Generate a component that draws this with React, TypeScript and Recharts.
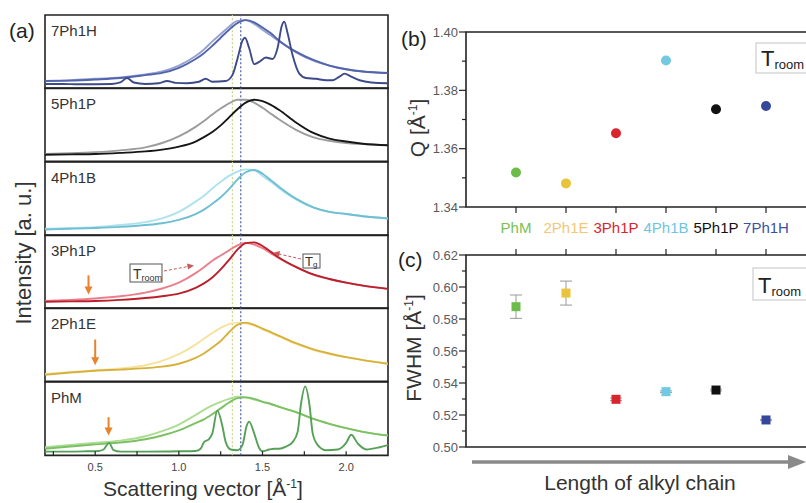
import React from "react";
import {
  LineChart,
  Line,
  XAxis,
  YAxis,
  ReferenceArea,
  ReferenceLine,
  ScatterChart,
  Scatter,
  ErrorBar,
} from "recharts";

const FONT = "'Liberation Sans', Arial, sans-serif";

// ---- panel (a): intensity scaled to each strip (0 = strip bottom, 1 = strip top)
const qGrid = [0.2, 0.35, 0.5, 0.65, 0.8, 0.9, 1.0, 1.1, 1.15, 1.2, 1.25, 1.3, 1.35, 1.4, 1.45, 1.5, 1.55, 1.6, 1.7, 1.8, 1.9, 2.0, 2.1, 2.25];

const h7Room = [0.1, 0.11, 0.13, 0.15, 0.19, 0.23, 0.31, 0.44, 0.53, 0.64, 0.74, 0.84, 0.92, 0.93, 0.88, 0.8, 0.72, 0.64, 0.49, 0.38, 0.31, 0.26, 0.23, 0.21];
const h7Tg = [0.1, 0.105, 0.12, 0.14, 0.18, 0.21, 0.28, 0.4, 0.48, 0.58, 0.69, 0.8, 0.89, 0.93, 0.9, 0.83, 0.75, 0.65, 0.5, 0.39, 0.31, 0.26, 0.23, 0.21];
const q7Cryst = [0.2, 0.3, 0.4, 0.6, 0.65, 0.69, 0.73, 0.8, 0.88, 0.93, 0.98, 1.05, 1.12, 1.16, 1.2, 1.28, 1.32, 1.35, 1.38, 1.395, 1.42, 1.45, 1.48, 1.52, 1.56, 1.59, 1.615, 1.63, 1.65, 1.68, 1.72, 1.76, 1.82, 1.88, 1.92, 1.96, 1.99, 2.03, 2.08, 2.15, 2.25];
const h7Cryst = [0.06, 0.06, 0.055, 0.06, 0.08, 0.14, 0.08, 0.06, 0.07, 0.1, 0.075, 0.07, 0.09, 0.13, 0.09, 0.1, 0.18, 0.4, 0.65, 0.69, 0.55, 0.33, 0.36, 0.42, 0.4, 0.55, 0.85, 0.91, 0.75, 0.45, 0.2, 0.14, 0.13, 0.11, 0.11, 0.16, 0.2, 0.16, 0.11, 0.08, 0.07];

const h5Room = [0.1, 0.11, 0.125, 0.15, 0.19, 0.25, 0.34, 0.47, 0.55, 0.64, 0.72, 0.79, 0.84, 0.84, 0.8, 0.73, 0.65, 0.57, 0.43, 0.33, 0.28, 0.25, 0.235, 0.22];
const h5Tg = [0.09, 0.095, 0.1, 0.115, 0.135, 0.16, 0.2, 0.27, 0.33, 0.4, 0.49, 0.6, 0.71, 0.8, 0.84, 0.82, 0.77, 0.7, 0.53, 0.39, 0.31, 0.27, 0.24, 0.22];

const h4Room = [0.09, 0.1, 0.11, 0.14, 0.18, 0.23, 0.32, 0.46, 0.54, 0.64, 0.73, 0.81, 0.87, 0.9, 0.89, 0.81, 0.73, 0.64, 0.49, 0.38, 0.32, 0.29, 0.26, 0.23];
const h4Tg = [0.08, 0.09, 0.1, 0.115, 0.14, 0.165, 0.21, 0.29, 0.35, 0.43, 0.52, 0.63, 0.76, 0.86, 0.89, 0.84, 0.75, 0.66, 0.5, 0.385, 0.32, 0.29, 0.26, 0.23];

const h3Room = [0.1, 0.115, 0.135, 0.165, 0.215, 0.27, 0.35, 0.48, 0.56, 0.65, 0.72, 0.79, 0.86, 0.89, 0.87, 0.82, 0.75, 0.68, 0.56, 0.46, 0.4, 0.35, 0.31, 0.265];
const h3Tg = [0.09, 0.095, 0.1, 0.115, 0.14, 0.165, 0.2, 0.28, 0.34, 0.42, 0.53, 0.66, 0.8, 0.89, 0.9, 0.85, 0.77, 0.69, 0.565, 0.465, 0.4, 0.35, 0.31, 0.265];

const h2Room = [0.1, 0.125, 0.15, 0.175, 0.22, 0.28, 0.37, 0.5, 0.58, 0.66, 0.73, 0.78, 0.8, 0.79, 0.76, 0.71, 0.66, 0.61, 0.51, 0.43, 0.37, 0.33, 0.29, 0.24];
const h2Tg = [0.09, 0.12, 0.145, 0.16, 0.18, 0.2, 0.24, 0.32, 0.38, 0.46, 0.55, 0.67, 0.77, 0.8, 0.77, 0.72, 0.67, 0.62, 0.52, 0.44, 0.38, 0.33, 0.29, 0.24];

const hMRoom = [0.11, 0.14, 0.17, 0.2, 0.26, 0.33, 0.42, 0.55, 0.62, 0.68, 0.73, 0.77, 0.8, 0.79, 0.76, 0.73, 0.7, 0.66, 0.59, 0.5, 0.43, 0.37, 0.32, 0.27];
const hMTg = [0.09, 0.12, 0.15, 0.175, 0.22, 0.27, 0.34, 0.44, 0.49, 0.56, 0.64, 0.72, 0.78, 0.79, 0.77, 0.73, 0.7, 0.66, 0.59, 0.5, 0.43, 0.37, 0.32, 0.27];
const qMCryst = [0.2, 0.35, 0.45, 0.52, 0.55, 0.583, 0.61, 0.65, 0.8, 1.0, 1.1, 1.13, 1.15, 1.18, 1.2, 1.23, 1.26, 1.28, 1.31, 1.35, 1.38, 1.405, 1.42, 1.45, 1.48, 1.5, 1.54, 1.57, 1.6, 1.64, 1.68, 1.71, 1.73, 1.755, 1.78, 1.8, 1.83, 1.88, 1.95, 2.0, 2.03, 2.07, 2.12, 2.2, 2.25];
const hMCryst = [0.05, 0.05, 0.055, 0.06, 0.08, 0.17, 0.07, 0.05, 0.05, 0.055, 0.06, 0.09, 0.18, 0.22, 0.3, 0.61, 0.4, 0.18, 0.08, 0.07, 0.14, 0.4, 0.46, 0.3, 0.1, 0.055, 0.08, 0.09, 0.09, 0.12, 0.18, 0.32, 0.7, 0.94, 0.7, 0.3, 0.14, 0.07, 0.08, 0.17, 0.28, 0.16, 0.08, 0.11, 0.14];

const qTicks = [0.25, 0.5, 0.75, 1.0, 1.25, 1.5, 1.75, 2.0];

// ---- panels (b) and (c)
const compounds = ["PhM", "2Ph1E", "3Ph1P", "4Ph1B", "5Ph1P", "7Ph1H"];
const labelColors = ["#78c155", "#f2c878", "#d9262e", "#6cc6df", "#111111", "#3e51a0"];
const markerColors = ["#6cbc4a", "#e9c43a", "#d9262e", "#72c9e2", "#111111", "#34479b"];
const peakQ = [1.3518, 1.3481, 1.3653, 1.3902, 1.3735, 1.3746];
const fwhm = [0.5877, 0.5962, 0.5298, 0.5346, 0.5356, 0.5169];
const fwhmErr = [0.0073, 0.0075, 0.0008, 0.0005, 0.0006, 0.0004];
const qTicksB = [1.34, 1.35, 1.36, 1.37, 1.38, 1.39, 1.4];
const fwhmTicks = [0.5, 0.51, 0.52, 0.53, 0.54, 0.55, 0.56, 0.57, 0.58, 0.59, 0.6, 0.61, 0.62];

const STRIP_TOP = 15;
const STRIP_H = 73.33;

const panels = [
  { name: "7Ph1H", room: h7Room, tg: h7Tg, roomColor: "#97a2cf", tgColor: "#5164ad", crystQ: q7Cryst, cryst: h7Cryst, crystColor: "#3d4a8a" },
  { name: "5Ph1P", room: h5Room, tg: h5Tg, roomColor: "#9c9c9c", tgColor: "#161616" },
  { name: "4Ph1B", room: h4Room, tg: h4Tg, roomColor: "#aee2ee", tgColor: "#6dbfd3" },
  { name: "3Ph1P", room: h3Room, tg: h3Tg, roomColor: "#ea7f8c", tgColor: "#bb1f2c", arrow: { q: 0.46, from: 0.45, to: 0.19 } },
  { name: "2Ph1E", room: h2Room, tg: h2Tg, roomColor: "#f7e29c", tgColor: "#d6b23c", arrow: { q: 0.5, from: 0.57, to: 0.22 } },
  { name: "PhM", room: hMRoom, tg: hMTg, roomColor: "#acdd92", tgColor: "#7cc064", crystQ: qMCryst, cryst: hMCryst, crystColor: "#56a058", arrow: { q: 0.58, from: 0.52, to: 0.27 } },
];

function buildRows(p) {
  const rows = qGrid.map((q, i) => ({ q, room: p.room[i], tg: p.tg[i] }));
  if (p.crystQ) p.crystQ.forEach((q, i) => rows.push({ q, cryst: p.cryst[i] }));
  return rows.sort((a, b) => a.q - b.q);
}

const OrangeArrow = (props) => {
  const { x1, y1, x2, y2 } = props;
  const x = (x1 + x2) / 2;
  const top = Math.min(y1, y2);
  const bot = Math.max(y1, y2);
  return (
    <g>
      <line x1={x} x2={x} y1={top} y2={bot - 6} stroke="#e8822c" strokeWidth={2} />
      <polygon points={`${x - 4},${bot - 8} ${x + 4},${bot - 8} ${x},${bot}`} fill="#e8822c" />
    </g>
  );
};

const QTick = ({ x, y, payload, showLabel }) => {
  const v = payload.value;
  const major = Math.abs(v * 2 - Math.round(v * 2)) < 1e-6;
  return (
    <g>
      <line x1={x} x2={x} y1={y} y2={y - 4} stroke="#222" strokeWidth={1.2} />
      {showLabel && major && (
        <text x={x} y={y + 16} textAnchor="middle" fontSize={11} fill="#444" fontFamily={FONT}>
          {v.toFixed(1)}
        </text>
      )}
    </g>
  );
};

function Strip({ p, index }) {
  const last = index === panels.length - 1;
  const rows = buildRows(p);
  const top = STRIP_TOP + index * STRIP_H;
  return (
    <div style={{ position: "absolute", left: 43, top: top - 2 }}>
      <LineChart width={347} height={STRIP_H + 2 + (last ? 26 : 2)} data={rows} margin={{ top: 2, right: 2, left: 2, bottom: last ? 0 : 2 }}>
        <XAxis
          type="number"
          dataKey="q"
          domain={[0.2, 2.25]}
          ticks={qTicks}
          allowDataOverflow
          height={last ? 26 : 0}
          axisLine={false}
          tickLine={false}
          tickSize={0}
          tickMargin={0}
          interval={0}
          tick={(t) => <QTick {...t} showLabel={last} />}
        />
        <YAxis type="number" domain={[0, 1]} hide allowDataOverflow />
        <ReferenceLine x={1.32} stroke="#c8d48c" strokeDasharray="2 2" strokeWidth={1.2} />
        <ReferenceLine x={1.37} stroke="#4a5fa8" strokeDasharray="2 2" strokeWidth={1.2} />
        <Line type="monotone" dataKey="room" stroke={p.roomColor} strokeWidth={1.9} dot={false} connectNulls isAnimationActive={false} />
        <Line type="monotone" dataKey="tg" stroke={p.tgColor} strokeWidth={1.9} dot={false} connectNulls isAnimationActive={false} />
        {p.crystQ && (
          <Line type="monotone" dataKey="cryst" stroke={p.crystColor} strokeWidth={1.9} dot={false} connectNulls isAnimationActive={false} />
        )}
        {p.arrow && (
          <ReferenceLine
            segment={[{ x: p.arrow.q, y: p.arrow.from }, { x: p.arrow.q, y: p.arrow.to }]}
            shape={OrangeArrow}
          />
        )}
        <ReferenceArea x1={0.2} x2={2.25} y1={0} y2={1} fill="none" stroke="#222" strokeWidth={1.6} ifOverflow="visible" />
      </LineChart>
    </div>
  );
}

const ValueTick = ({ x, y, payload }) => {
  const v = payload.value;
  const major = Math.round(v * 100) % 2 === 0;
  return (
    <g>
      <line x1={x - (major ? 7 : 4)} x2={x} y1={y} y2={y} stroke="#222" strokeWidth={1.2} />
      {major && (
        <text x={x - 8} y={y} dy={4.5} textAnchor="end" fontSize={13} fill="#5a5a5a" fontFamily={FONT}>
          {v.toFixed(2)}
        </text>
      )}
    </g>
  );
};

const NameTick = ({ x, y, payload }) => {
  const i = payload.value - 1;
  return (
    <g>
      <line x1={x} x2={x} y1={y} y2={y + 6} stroke="#222" strokeWidth={1.2} />
      <text x={x} y={y + 26} textAnchor="middle" fontSize={15} fill={labelColors[i]} fontFamily={FONT}>
        {compounds[i]}
      </text>
    </g>
  );
};

const UpTick = ({ x, y }) => <line x1={x} x2={x} y1={y} y2={y - 6} stroke="#222" strokeWidth={1.2} />;

const peakData = compounds.map((c, i) => ({ x: i + 1, y: peakQ[i], color: markerColors[i] }));
const widthData = compounds.map((c, i) => ({ x: i + 1, y: fwhm[i], err: fwhmErr[i], color: markerColors[i] }));

const Dot = (p) => <circle cx={p.cx} cy={p.cy} r={5} fill={p.payload.color} />;
const Sq = (p) => <rect x={p.cx - 4.5} y={p.cy - 4.5} width={9} height={9} fill={p.payload.color} />;

function Troom({ x, y, w, h }) {
  return (
    <g>
      <rect x={x} y={y} width={w} height={h} fill="#fff" stroke="#c4c4c4" strokeWidth={1} />
      <text x={x + 5} y={y + h - 7} fontSize={22} fill="#222" fontFamily={FONT}>
        T<tspan fontSize={13} dy={3}>room</tspan>
      </text>
    </g>
  );
}

export default function App() {
  return (
    <div style={{ position: "absolute", left: 0, top: 0, width: 806, height: 503, overflow: "hidden", background: "#fff", fontFamily: FONT }}>
      {panels.map((p, i) => (
        <Strip key={p.name} p={p} index={i} />
      ))}

      <div style={{ position: "absolute", left: 400, top: 20 }}>
        <ScatterChart width={416} height={217} margin={{ top: 12, right: 0, bottom: 0, left: 0 }}>
          <XAxis type="number" dataKey="x" domain={[0, 7]} ticks={[1, 2, 3, 4, 5, 6]} interval={0} height={30} axisLine={false} tickLine={false} tickSize={0} tickMargin={0} tick={NameTick} />
          <YAxis type="number" dataKey="y" domain={[1.34, 1.4]} ticks={qTicksB} interval={0} width={66} axisLine={false} tickLine={false} tickSize={0} tickMargin={0} tick={ValueTick} />
          <ReferenceArea x1={0} x2={7} y1={1.34} y2={1.4} fill="none" stroke="#222" strokeWidth={1.6} ifOverflow="visible" />
          <Scatter data={peakData} shape={Dot} isAnimationActive={false} />
        </ScatterChart>
      </div>

      <div style={{ position: "absolute", left: 400, top: 243 }}>
        <ScatterChart width={416} height={214} margin={{ top: 0, right: 0, bottom: 10, left: 0 }}>
          <XAxis type="number" dataKey="x" orientation="top" domain={[0, 7]} ticks={[1, 2, 3, 4, 5, 6]} interval={0} height={12} axisLine={false} tickLine={false} tickSize={0} tickMargin={0} tick={UpTick} />
          <YAxis type="number" dataKey="y" domain={[0.5, 0.62]} ticks={fwhmTicks} interval={0} width={66} axisLine={false} tickLine={false} tickSize={0} tickMargin={0} tick={ValueTick} />
          <ReferenceArea x1={0} x2={7} y1={0.5} y2={0.62} fill="none" stroke="#222" strokeWidth={1.6} ifOverflow="visible" />
          <Scatter data={widthData} shape={Sq} isAnimationActive={false}>
            <ErrorBar dataKey="err" direction="y" width={6} stroke="#9a9a9a" strokeWidth={1} />
          </Scatter>
        </ScatterChart>
      </div>

      <svg width={806} height={503} style={{ position: "absolute", left: 0, top: 0, pointerEvents: "none" }} fontFamily={FONT}>
        <text x={9} y={38} fontSize={21} fill="#222">(a)</text>
        <text x={401} y={46} fontSize={21} fill="#222">(b)</text>
        <text x={398} y={267} fontSize={21} fill="#222">(c)</text>
        {panels.map((p, i) => (
          <text key={p.name} x={51} y={STRIP_TOP + i * STRIP_H + 21} fontSize={15} fill="#333">
            {p.name}
          </text>
        ))}
        <text transform="translate(31,253) rotate(-90)" textAnchor="middle" fontSize={22} fill="#333">
          Intensity [a. u.]
        </text>
        <text x={203} y={496} textAnchor="middle" fontSize={21} fill="#333">
          Scattering vector [Å<tspan fontSize={12} dy={-8}>-1</tspan><tspan dy={8}>]</tspan>
        </text>
        <text transform="translate(425,128) rotate(-90)" textAnchor="middle" fontSize={21} fill="#333">
          Q [Å<tspan fontSize={12} dy={-8}>-1</tspan><tspan dy={8}>]</tspan>
        </text>
        <text transform="translate(421,348) rotate(-90)" textAnchor="middle" fontSize={21} fill="#333">
          FWHM [Å<tspan fontSize={12} dy={-8}>-1</tspan><tspan dy={8}>]</tspan>
        </text>
        <text x={640} y={490} textAnchor="middle" fontSize={21} fill="#333">Length of alkyl chain</text>
        <line x1={472} x2={792} y1={462} y2={462} stroke="#8a8a8a" strokeWidth={3.5} />
        <polygon points="788,455 806,462 788,469" fill="#8a8a8a" />
        <Troom x={756} y={43} w={60} h={30} />
        <Troom x={753} y={268} w={60} h={32} />
        {/* Troom / Tg labels in the 3Ph1P strip */}
        <rect x={130} y={264} width={32} height={18} fill="#fff" stroke="#555" strokeWidth={1} />
        <text x={133} y={279} fontSize={14} fill="#333">
          T<tspan fontSize={9} dy={2}>room</tspan>
        </text>
        <line x1={164} y1={271} x2={188} y2={266.5} stroke="#c95a5a" strokeWidth={1} strokeDasharray="3 2" />
        <polygon points="187,263.5 194,265.5 188,269.5" fill="#c95a5a" />
        <rect x={303} y={254} width={17} height={14} fill="#fff" stroke="#555" strokeWidth={1} />
        <text x={305} y={266} fontSize={13} fill="#333">
          T<tspan fontSize={8} dy={1}>g</tspan>
        </text>
        <line x1={301} y1={259} x2={279} y2={254} stroke="#c95a5a" strokeWidth={1} strokeDasharray="3 2" />
        <polygon points="280,251 273,252.8 279,257" fill="#c95a5a" />
      </svg>
    </div>
  );
}
